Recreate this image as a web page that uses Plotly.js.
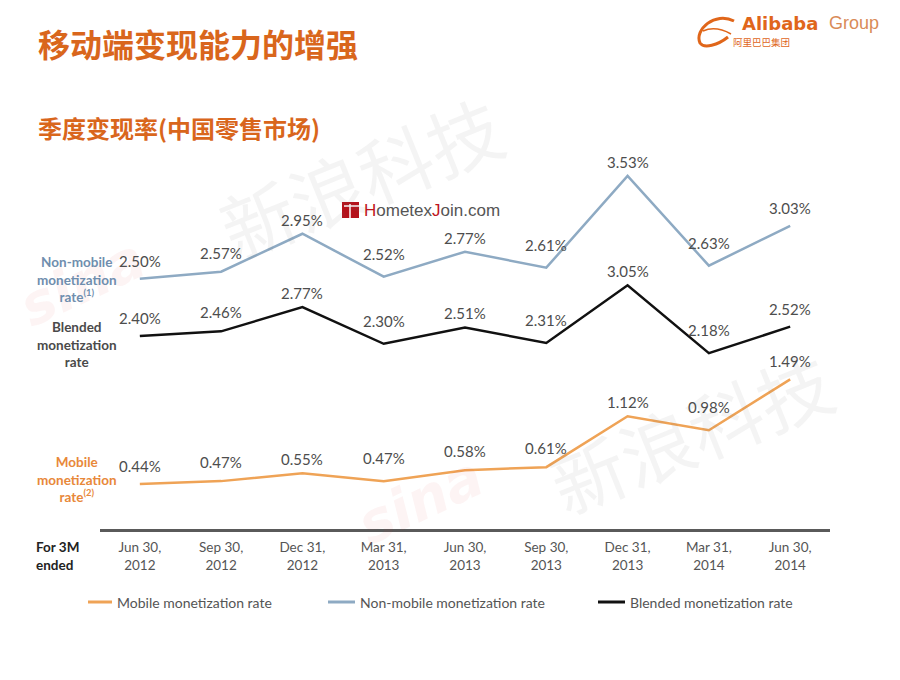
<!DOCTYPE html>
<html>
<head>
<meta charset="utf-8">
<script src="https://cdn.plot.ly/plotly-3.0.1.min.js"></script>
<style>
  html, body { margin: 0; padding: 0; background: #fff; }
  #chart { width: 900px; height: 680px; }
</style>
</head>
<body>
<div id="chart"></div>
<script>
// ---- data ----
const quarters = ["Jun 30, 2012", "Sep 30, 2012", "Dec 31, 2012", "Mar 31, 2013", "Jun 30, 2013",
                  "Sep 30, 2013", "Dec 31, 2013", "Mar 31, 2014", "Jun 30, 2014"];
const mobileRate    = [0.44, 0.47, 0.55, 0.47, 0.58, 0.61, 1.12, 0.98, 1.49];
const nonMobileRate = [2.50, 2.57, 2.95, 2.52, 2.77, 2.61, 3.53, 2.63, 3.03];
const blendedRate   = [2.40, 2.46, 2.77, 2.30, 2.51, 2.31, 3.05, 2.18, 2.52];
const seriesNames = ["Mobile monetization rate", "Non-mobile monetization rate", "Blended monetization rate"];

// ---- layout helpers (pixel -> paper) ----
const L = 100, R = 830, T = 140, B = 529;
const X = px => (px - L) / (R - L);
const Y = py => (B - py) / (B - T);

const tickText = quarters.map(q => q.replace(", ", ",<br>"));
const idx = quarters.map((q, i) => i);

const cMobile = "#efa356", cNon = "#8eaac3", cBlend = "#111111";

const traces = [
  { x: idx, y: mobileRate, yaxis: "y", name: seriesNames[0], mode: "lines",
    line: { color: cMobile, width: 2.5 }, hoverinfo: "skip" },
  { x: idx, y: nonMobileRate, yaxis: "y", name: seriesNames[1], mode: "lines",
    line: { color: cNon, width: 2.5 }, hoverinfo: "skip" },
  { x: idx, y: blendedRate, yaxis: "y2", name: seriesNames[2], mode: "lines",
    line: { color: cBlend, width: 2.5 }, hoverinfo: "skip" }
];

// value labels
function shiftFor(arr, i) {
  if (i === 0 || i === arr.length - 1) return 18;
  if (arr[i] > arr[i - 1] && arr[i] > arr[i + 1]) return 14;
  if (arr[i] < arr[i - 1] && arr[i] < arr[i + 1]) return 23;
  return 19;
}
const annotations = [];

// faint sina watermarks (drawn first, behind everything else)
[[360, 175], [690, 430]].forEach(([cx, cy]) => {
  annotations.push({ x: X(cx), y: Y(cy), xref: "paper", yref: "paper", text: "新浪科技",
    showarrow: false, textangle: -22, xanchor: "center", yanchor: "middle",
    font: { family: "'Noto Sans CJK SC', sans-serif", size: 74, color: "rgba(120,120,120,0.08)" } });
});
[[82, 282], [420, 500]].forEach(([cx, cy]) => {
  annotations.push({ x: X(cx), y: Y(cy), xref: "paper", yref: "paper", text: "<b><i>sina</i></b>",
    showarrow: false, textangle: -25, xanchor: "center", yanchor: "middle",
    font: { family: "'DejaVu Sans', sans-serif", size: 56, color: "rgba(220,70,70,0.06)" } });
});

[[mobileRate, "y"], [nonMobileRate, "y"], [blendedRate, "y2"]].forEach(([arr, ya]) => {
  arr.forEach((v, i) => {
    annotations.push({
      x: i, y: v, xref: "x", yref: ya, text: v.toFixed(2) + "%", showarrow: false,
      yanchor: "middle", yshift: shiftFor(arr, i),
      font: { family: "Lato, 'Open Sans', sans-serif", size: 15, color: "#4d4d4d" }
    });
  });
});

const sideFont = { family: "Lato, 'Open Sans', sans-serif", size: 13.5 };
function sideLabel(text, py, color) {
  annotations.push({ x: X(77), y: Y(py), xref: "paper", yref: "paper", text: text, showarrow: false,
    xanchor: "center", yanchor: "middle", align: "center",
    font: Object.assign({}, sideFont, { color: color, weight: 700 }) });
}
sideLabel("Non-mobile<br>monetization<br>rate<sup>(1)</sup>", 279, "#6f8eae");
sideLabel("Blended<br>monetization<br>rate", 344, "#4a4a4a");
sideLabel("Mobile<br>monetization<br>rate<sup>(2)</sup>", 479, "#e8883a");

annotations.push({ x: X(34), y: Y(556), xref: "paper", yref: "paper", text: "For 3M<br>ended",
  showarrow: false, xanchor: "left", yanchor: "middle", align: "left",
  font: { family: "Lato, sans-serif", size: 13.5, color: "#222", weight: 700 } });

// titles
annotations.push({ x: X(36), y: Y(43), xref: "paper", yref: "paper", text: "<b>移动端变现能力的增强</b>",
  showarrow: false, xanchor: "left", yanchor: "middle",
  font: { family: "'Noto Sans CJK SC', sans-serif", size: 32, color: "#d9661c" } });
annotations.push({ x: X(36), y: Y(127), xref: "paper", yref: "paper", text: "<b>季度变现率(中国零售市场)</b>",
  showarrow: false, xanchor: "left", yanchor: "middle",
  font: { family: "'Noto Sans CJK SC', sans-serif", size: 24, color: "#d9661c" } });

// legend (manual)
const legendItems = [[88, 112, cMobile], [328, 355, cNon], [598, 625, cBlend]];
const shapes = [];
legendItems.forEach(([x0, x1, col], k) => {
  shapes.push({ type: "line", xref: "paper", yref: "paper", x0: X(x0), x1: X(x1), y0: Y(602), y1: Y(602),
    line: { color: col, width: 3 } });
  annotations.push({ x: X(x1 + 3), y: Y(602), xref: "paper", yref: "paper", text: seriesNames[k],
    showarrow: false, xanchor: "left", yanchor: "middle",
    font: { family: "Lato, sans-serif", size: 14, color: "#555" } });
});

// Alibaba logo
annotations.push({ x: X(740), y: Y(24), xref: "paper", yref: "paper", text: "<b>Alibaba</b>",
  showarrow: false, xanchor: "left", yanchor: "middle",
  font: { family: "'DejaVu Sans', sans-serif", size: 18, color: "#e0661a" } });
annotations.push({ x: X(827), y: Y(23), xref: "paper", yref: "paper", text: "Group",
  showarrow: false, xanchor: "left", yanchor: "middle",
  font: { family: "'Liberation Sans', Arial, sans-serif", size: 18, color: "#d98b58" } });
annotations.push({ x: X(731), y: Y(42), xref: "paper", yref: "paper", text: "阿里巴巴集团",
  showarrow: false, xanchor: "left", yanchor: "middle",
  font: { family: "'Noto Sans CJK SC', sans-serif", size: 9.5, color: "#e0661a" } });
shapes.push({ type: "path", xref: "paper", yref: "paper",
  path: `M ${X(734)} ${Y(21)} C ${X(715)} ${Y(11)}, ${X(694)} ${Y(30)}, ${X(700)} ${Y(43)} C ${X(704)} ${Y(49)}, ${X(718)} ${Y(45)}, ${X(728)} ${Y(37)}`,
  line: { color: "#e0661a", width: 3 } });
shapes.push({ type: "path", xref: "paper", yref: "paper",
  path: `M ${X(703)} ${Y(31)} C ${X(712)} ${Y(27)}, ${X(722)} ${Y(29)}, ${X(731)} ${Y(34)}`,
  line: { color: "#e0661a", width: 1.5 } });

// HometexJoin watermark
shapes.push({ type: "rect", xref: "paper", yref: "paper", x0: X(342), x1: X(359), y0: Y(218), y1: Y(202),
  fillcolor: "#b5121b", line: { width: 0 } });
shapes.push({ type: "line", xref: "paper", yref: "paper", x0: X(350), x1: X(350), y0: Y(218), y1: Y(204),
  line: { color: "#fff", width: 1.5 } });
shapes.push({ type: "line", xref: "paper", yref: "paper", x0: X(344), x1: X(359), y0: Y(206), y1: Y(206),
  line: { color: "#fff", width: 1.5 } });
annotations.push({ x: X(362), y: Y(210), xref: "paper", yref: "paper",
  text: "<span style='color:#c0141c'>H</span>ometex<span style='color:#c0141c'>J</span>oin.com",
  showarrow: false, xanchor: "left", yanchor: "middle",
  font: { family: "'Liberation Sans', Arial, sans-serif", size: 17, color: "#555" } });

const layout = {
  width: 900, height: 680,
  margin: { l: L, r: 900 - R, t: T, b: 680 - B },
  paper_bgcolor: "#ffffff", plot_bgcolor: "rgba(0,0,0,0)",
  showlegend: false,
  xaxis: {
    range: [-0.49, 8.49], tickvals: idx, ticktext: tickText, ticks: "",
    showgrid: false, zeroline: false, showline: true, linecolor: "#5a5a5a", linewidth: 3,
    tickfont: { family: "Lato, 'Open Sans', sans-serif", size: 13.5, color: "#555" },
    ticklabelstandoff: 4, fixedrange: true
  },
  yaxis: { range: [-0.01, 3.89], visible: false, fixedrange: true },
  yaxis2: { range: [-0.074, 4.913], overlaying: "y", visible: false, fixedrange: true },
  annotations: annotations,
  shapes: shapes
};

Plotly.newPlot("chart", traces, layout, { displayModeBar: false, staticPlot: true });
</script>
</body>
</html>
